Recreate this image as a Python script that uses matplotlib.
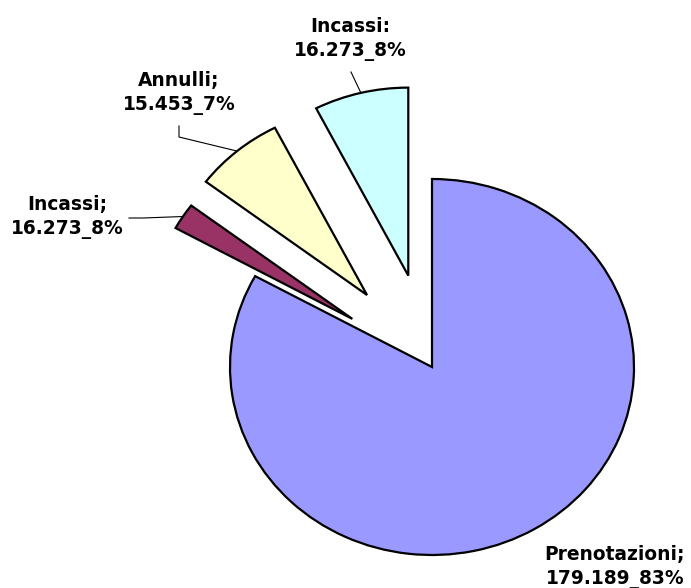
import numpy as np
import matplotlib
matplotlib.use("Agg")
import matplotlib.pyplot as plt

# data (clockwise from 12 o'clock)
labels = ["Prenotazioni;\n179.189_83%", "Incassi;\n16.273_8%",
          "Annulli;\n15.453_7%", "Incassi:\n16.273_8%"]
values = [179.189, 4.9, 15.453, 16.273]
colors = ["#9999FF", "#993366", "#FFFFCC", "#CCFFFF"]
explode = [0, 0.47, 0.5, 0.5]

# layout in pixels (figure 691x588, pie center / radii)
W, H = 691, 588
CX, CY, RX, RY = 432, 367, 202, 188


def px(x, y):
    return (x - CX) / RX, (CY - y) / RY


fig = plt.figure(figsize=(W / 100, H / 100), dpi=100)
ax = fig.add_axes([0, 0, 1, 1])

wedges, _ = ax.pie(values, colors=colors, explode=explode, startangle=90,
                   counterclock=False,
                   wedgeprops=dict(edgecolor="black", linewidth=1.6))
ax.set_aspect("auto")
ax.set_xlim((0 - CX) / RX, (W - CX) / RX)
ax.set_ylim((CY - H) / RY, CY / RY)
ax.axis("off")

# label text positions and leader elbows (pixels)
text_pos = [(615, 567), (67, 217), (179, 93), (350, 39)]
leaders = [None, [(129, 218), (143, 218)], [(179, 126), (179, 137)], [(351, 72)]]

for w, lab, tp, lead in zip(wedges, labels, text_pos, leaders):
    ax.text(*px(*tp), lab, ha="center", va="center", fontsize=13.4,
            fontweight="bold", linespacing=1.35, color="black")
    if lead is None:
        continue
    mid = np.deg2rad((w.theta1 + w.theta2) / 2)
    ex = w.center[0] + w.r * np.cos(mid)
    ey = w.center[1] + w.r * np.sin(mid)
    pts = [px(*p) for p in lead] + [(ex, ey)]
    ax.plot([p[0] for p in pts], [p[1] for p in pts], color="black",
            linewidth=0.8, zorder=0)

fig.savefig("out.png", dpi=100)
plt.close(fig)
